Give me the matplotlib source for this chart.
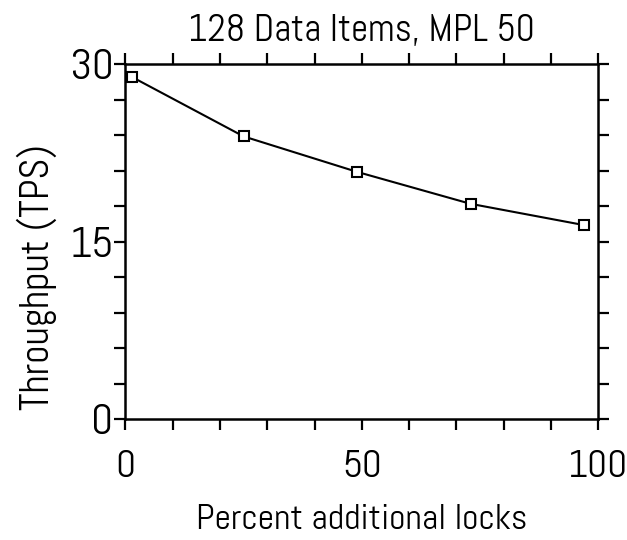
import matplotlib
matplotlib.use("Agg")
import matplotlib.pyplot as plt
from matplotlib.ticker import MultipleLocator

# values
pct_locks = [1.5, 25, 49, 73, 97]
throughput = [28.9, 23.9, 20.9, 18.2, 16.4]
x_labels = [0, 50, 100]
y_labels = [0, 15, 30]

plt.rcParams['font.family'] = ['Abel', 'DejaVu Sans']

fig = plt.figure(figsize=(6.27, 5.40), dpi=100)
ax = fig.add_axes([0.200, 0.224, 0.754, 0.657])

ax.plot(pct_locks, throughput, color='black', linewidth=1.5,
        marker='s', markersize=7.5, markerfacecolor='white',
        markeredgecolor='black', markeredgewidth=1.5, clip_on=False)

ax.set_xlim(0, 100)
ax.set_ylim(0, 30)
ax.set_xticks(x_labels)
ax.set_yticks(y_labels)
ax.xaxis.set_minor_locator(MultipleLocator(10))
ax.yaxis.set_minor_locator(MultipleLocator(3))

for side in ['top', 'bottom', 'left', 'right']:
    ax.spines[side].set_linewidth(1.8)

ax.tick_params(which='both', direction='out', length=8, width=1.6,
               top=True, right=True)
ax.tick_params(axis='x', pad=14, labelsize=28)
ax.tick_params(axis='y', pad=0.5, labelsize=31)

ax.set_title("128 Data Items, MPL 50", fontsize=27, pad=16.5)
ax.set_xlabel("Percent additional locks", fontsize=26, labelpad=14)
ax.set_ylabel("Throughput (TPS)", fontsize=29)
ax.yaxis.set_label_coords(-0.145, 0.40)

fig.savefig("out.png", dpi=100)
